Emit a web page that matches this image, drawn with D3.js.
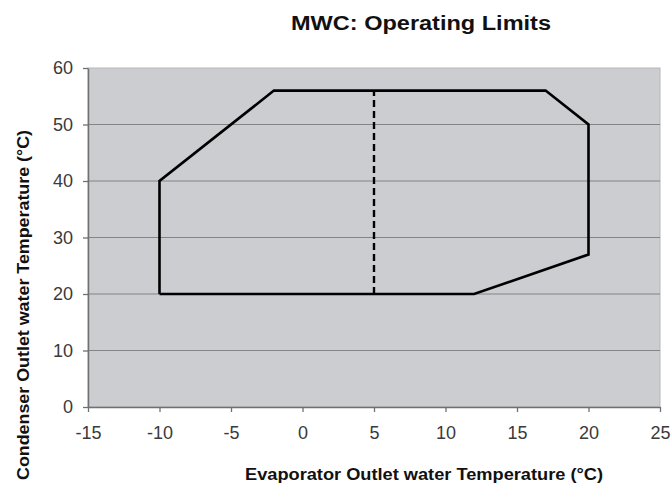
<!DOCTYPE html>
<html>
<head>
<meta charset="utf-8">
<script src="https://cdn.jsdelivr.net/npm/d3@7"></script>
<style>
body { margin: 0; background: #fff; }
text { font-family: "Liberation Sans", Arial, sans-serif; }
</style>
</head>
<body>
<svg id="chart" width="672" height="489"></svg>
<script>
// envelope corners (evaporator °C, condenser °C)
var evapTemp = [-10, -10, -2, 17, 20, 20, 12, -10];
var condTemp = [20, 40, 56, 56, 50, 27, 20, 20];
// dashed divider
var dividerEvap = [5, 5];
var dividerCond = [20, 56];
var xTicks = [-15, -10, -5, 0, 5, 10, 15, 20, 25];
var yTicks = [0, 10, 20, 30, 40, 50, 60];

var margin = { top: 68, right: 12, bottom: 82, left: 88 };
var width = 672, height = 489;
var svg = d3.select("#chart");

var x = d3.scaleLinear().domain([-15, 25]).range([margin.left, width - margin.right]);
var y = d3.scaleLinear().domain([0, 60]).range([height - margin.bottom, margin.top]);

svg.append("rect")
	.attr("x", x(-15)).attr("y", y(60))
	.attr("width", x(25) - x(-15)).attr("height", y(0) - y(60))
	.attr("fill", "#cbcdd0")
	.attr("stroke", "#b5b7ba");

// gridlines
svg.append("g").selectAll("line")
	.data(yTicks.filter(function(d) { return d > 0 && d < 60; }))
	.enter().append("line")
	.attr("x1", x(-15)).attr("x2", x(25))
	.attr("y1", function(d) { return y(d); })
	.attr("y2", function(d) { return y(d); })
	.attr("stroke", "#838486")
	.attr("stroke-width", 1.2);

var fmt = function(d) { return String(d); };
var xAxis = svg.append("g")
	.attr("transform", "translate(0," + y(0) + ")")
	.call(d3.axisBottom(x).tickValues(xTicks).tickFormat(fmt).tickSize(5).tickPadding(14).tickSizeOuter(0));
var yAxis = svg.append("g")
	.attr("transform", "translate(" + x(-15) + ",0)")
	.call(d3.axisLeft(y).tickValues(yTicks).tickFormat(fmt).tickSize(5).tickPadding(10).tickSizeOuter(0));

[xAxis, yAxis].forEach(function(a) {
	a.select(".domain").attr("stroke", "#6f7072").attr("stroke-width", 1.5);
	a.selectAll(".tick line").attr("stroke", "#6f7072").attr("stroke-width", 1.3);
	a.selectAll(".tick text")
		.attr("fill", "#3a3a3a")
		.style("font-size", "18px")
		.style("font-family", "'Liberation Sans', Arial, sans-serif");
});

var pts = evapTemp.map(function(d, i) { return [d, condTemp[i]]; });
var line = d3.line()
	.x(function(d) { return x(d[0]); })
	.y(function(d) { return y(d[1]); });

svg.append("path")
	.datum(pts)
	.attr("d", line)
	.attr("fill", "none")
	.attr("stroke", "#000")
	.attr("stroke-width", 2.6)
	.attr("stroke-linejoin", "miter");

svg.append("path")
	.datum(dividerEvap.map(function(d, i) { return [d, dividerCond[i]]; }))
	.attr("d", line)
	.attr("fill", "none")
	.attr("stroke", "#000")
	.attr("stroke-width", 2.4)
	.attr("stroke-dasharray", "7,4");

svg.append("text")
	.attr("x", 421).attr("y", 30)
	.attr("text-anchor", "middle")
	.attr("textLength", 260).attr("lengthAdjust", "spacingAndGlyphs")
	.style("font-size", "20px").style("font-weight", "bold")
	.attr("fill", "#111")
	.text("MWC: Operating Limits");

svg.append("text")
	.attr("x", 424).attr("y", 480)
	.attr("text-anchor", "middle")
	.attr("textLength", 358).attr("lengthAdjust", "spacingAndGlyphs")
	.style("font-size", "17px").style("font-weight", "bold")
	.attr("fill", "#111")
	.text("Evaporator Outlet water Temperature (°C)");

svg.append("text")
	.attr("transform", "translate(29,305) rotate(-90)")
	.attr("text-anchor", "middle")
	.attr("textLength", 350).attr("lengthAdjust", "spacingAndGlyphs")
	.style("font-size", "17px").style("font-weight", "bold")
	.attr("fill", "#111")
	.text("Condenser Outlet water Temperature (°C)");
</script>
</body>
</html>
